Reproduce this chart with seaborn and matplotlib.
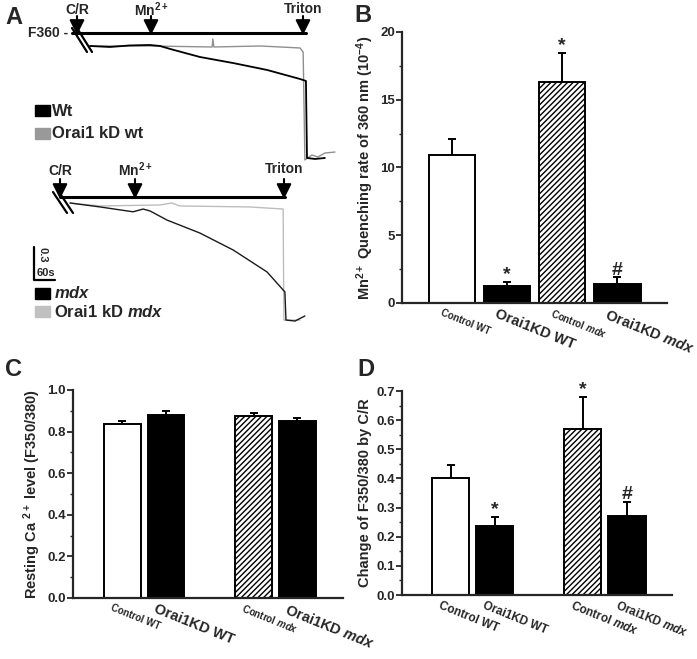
import numpy as np
import pandas as pd
import matplotlib
matplotlib.use("Agg")
import matplotlib.pyplot as plt
import seaborn as sns
from matplotlib.ticker import MultipleLocator, FormatStrFormatter
from matplotlib.transforms import ScaledTranslation

# ---------------- data ----------------
# Panel A traces (time in s, normalised F360)
wt_t = [0, 57, 114, 171, 200, 229, 314, 409, 506, 600, 617, 620, 643, 671]
wt_f = [1.0, 0.991, 1.005, 1.009, 1.0, 0.973, 0.900, 0.845, 0.782, 0.700, 0.682, -0.018, -0.027, -0.018]
kdwt_t = [0, 171, 349, 351, 354, 486, 600, 609, 614, 634, 651, 671, 700]
kdwt_f = [1.0, 1.0, 0.991, 1.064, 0.991, 1.0, 0.982, 0.945, -0.036, 0.009, -0.009, 0.027, 0.036]
mdx_t = [0, 86, 180, 209, 229, 277, 371, 466, 563, 609, 614, 617, 643, 671]
mdx_f = [1.0, 0.964, 0.920, 0.945, 0.927, 0.845, 0.727, 0.573, 0.373, 0.209, 0.191, -0.064, -0.073, -0.027]
kdmdx_t = [0, 86, 257, 291, 314, 514, 609, 611, 657]
kdmdx_f = [1.0, 0.973, 0.982, 1.0, 0.973, 0.964, 0.945, -0.064, -0.064]

groups = ["Control WT", "Orai1KD WT", "Control mdx", "Orai1KD mdx"]
quench_mean = [10.9, 1.25, 16.3, 1.4]
quench_sem = [1.2, 0.3, 2.15, 0.5]
resting_mean = [0.835, 0.882, 0.875, 0.850]
resting_sem = [0.017, 0.015, 0.013, 0.015]
change_mean = [0.40, 0.237, 0.570, 0.270]
change_sem = [0.047, 0.031, 0.110, 0.050]
quench_sig = ["", "*", "*", "#"]
change_sig = ["", "*", "*", "#"]

# ---------------- style ----------------
sns.set_style("ticks")
plt.rcParams["font.family"] = ["Liberation Sans", "DejaVu Sans"]
plt.rcParams["font.weight"] = "bold"
plt.rcParams["mathtext.fontset"] = "custom"
plt.rcParams["mathtext.rm"] = "Liberation Sans:bold"
plt.rcParams["mathtext.it"] = "Liberation Sans:italic:bold"
plt.rcParams["mathtext.bf"] = "Liberation Sans:bold"
plt.rcParams["hatch.linewidth"] = 1.0

W, H = 697, 659
fig = plt.figure(figsize=(W / 100, H / 100), dpi=100)


def rect(x0, y0, x1, y1):
    return [x0 / W, 1 - y1 / H, (x1 - x0) / W, (y1 - y0) / H]


# ---------------- panel A traces ----------------
axA1 = fig.add_axes(rect(20, 0, 345, 175))
sns.lineplot(x=kdwt_t, y=kdwt_f, sort=False, estimator=None, color="#8f8f8f", lw=1.0, ax=axA1)
sns.lineplot(x=wt_t, y=wt_f, sort=False, estimator=None, color="black", lw=1.3, ax=axA1)
axA1.set_xlim(-200, 728.6)
axA1.set_ylim(-0.1727, 1.418)
axA1.axis("off")

axA2 = fig.add_axes(rect(20, 175, 345, 340))
sns.lineplot(x=kdmdx_t, y=kdmdx_f, sort=False, estimator=None, color="#bdbdbd", lw=1.0, ax=axA2)
sns.lineplot(x=mdx_t, y=mdx_f, sort=False, estimator=None, color="#1a1a1a", lw=1.0, ax=axA2)
axA2.set_xlim(-142.9, 785.7)
axA2.set_ylim(-0.2455, 1.2545)
axA2.axis("off")


# ---------------- bar panels ----------------
def bar_panel(box, means, sems, order, ylim, yticks, minor, fmt, ylabel,
              small_fs, big_fs, label_x, sig=None, width=0.84):
    ax = fig.add_axes(rect(*box))
    df = pd.DataFrame({"group": groups, "value": means})
    pal = {"Control WT": "white", "Orai1KD WT": "black",
           "Control mdx": "white", "Orai1KD mdx": "black"}
    sns.barplot(data=df, x="group", y="value", hue="group", palette=pal,
                order=order, hue_order=groups, legend=False, errorbar=None,
                width=width, dodge=False, edgecolor="black", linewidth=1.4,
                saturation=1, ax=ax)
    bars = sorted([p for p in ax.patches if p.get_height() > 0], key=lambda p: p.get_x())
    centers = [p.get_x() + p.get_width() / 2 for p in bars]
    bars[2].set_hatch("//////")
    ax.errorbar(centers, means, yerr=[np.zeros(4), sems], fmt="none",
                ecolor="black", elinewidth=1.4, capsize=3, capthick=1.4, zorder=1)
    for p in bars:
        p.set_zorder(2)
    if sig is not None:
        for c, m, s, g in zip(centers, means, sems, sig):
            if g:
                ax.annotate(g, (c, m + s), xytext=(0, -1), textcoords="offset points",
                            ha="center", va="bottom", fontsize=14,
                            fontweight="bold", annotation_clip=False)
    ax.set_ylim(*ylim)
    ax.set_yticks(yticks)
    ax.yaxis.set_minor_locator(MultipleLocator(minor))
    ax.yaxis.set_major_formatter(FormatStrFormatter(fmt))
    ax.tick_params(axis="y", direction="out", length=4, width=1.3, labelsize=9.5, pad=1)
    ax.tick_params(axis="y", which="minor", direction="out", length=2.5, width=1.0)
    ax.tick_params(axis="x", length=0, pad=3)
    for sp in ["top", "right"]:
        ax.spines[sp].set_visible(False)
    for sp in ["left", "bottom"]:
        ax.spines[sp].set_linewidth(1.6)
    ax.set_ylabel(ylabel, fontsize=10.5, fontweight="bold")
    ax.yaxis.set_label_coords(label_x, 0.5)
    ax.set_xlabel("")
    ax.set_xticks(centers)
    labels = ["Control WT", "Orai1KD WT", "Control $\\mathit{mdx}$", "Orai1KD $\\mathit{mdx}$"]
    ax.set_xticklabels(labels)
    off = ScaledTranslation(-9 / 100, 0, fig.dpi_scale_trans)
    for i, t in enumerate(ax.get_xticklabels()):
        t.set_rotation(-22)
        t.set_ha("left")
        t.set_va("top")
        t.set_rotation_mode("anchor")
        t.set_fontsize(small_fs if i % 2 == 0 else big_fs)
        t.set_fontweight("bold")
        t.set_transform(t.get_transform() + off)
    ax.set_facecolor("none")
    return ax


axB = bar_panel((402, 32, 667, 303), quench_mean, quench_sem, groups,
                (0, 20), [0, 5, 10, 15, 20], 2.5, "%d",
                "Mn$^{2+}$ Quenching rate of 360 nm (10$^{-4}$)", 7, 10.5, -0.10,
                sig=quench_sig)
axB.set_xlim(-0.9, 3.9)

gap_order = ["Control WT", "Orai1KD WT", "", "Control mdx", "Orai1KD mdx"]
axC = bar_panel((73, 390, 343, 598), resting_mean, resting_sem, gap_order,
                (0, 1.0), [0, 0.2, 0.4, 0.6, 0.8, 1.0], 0.1, "%.1f",
                "Resting Ca $^{2+}$ level (F350/380)", 7, 10.5, -0.112)
axC.set_xlim(-1.12, 5.04)

axD = bar_panel((402, 391, 672, 595), change_mean, change_sem, gap_order,
                (0, 0.7), [0, 0.1, 0.2, 0.3, 0.4, 0.5, 0.6, 0.7], 0.05, "%.1f",
                "Change of F350/380 by C/R", 8.5, 8.5, -0.112, sig=change_sig)
axD.set_xlim(-1.1, 5.02)

# ---------------- overlay for panel A annotations ----------------
ov = fig.add_axes([0, 0, 1, 1])
ov.set_xlim(0, W)
ov.set_ylim(H, 0)
ov.axis("off")
ov.set_facecolor("none")


def arrow(x, ytop, ybot, label, ylab):
    ov.annotate("", xy=(x, ybot), xytext=(x, ytop),
                arrowprops=dict(arrowstyle="-|>,head_length=0.9,head_width=0.45",
                                color="black", lw=1.5, shrinkA=0, shrinkB=0))
    ov.text(x, ylab, label, ha="center", va="center", fontsize=10, fontweight="bold")


# top trace decorations
ov.plot([72, 306], [33, 33], color="black", lw=2.2)
arrow(77, 16, 35, "C/R", 10)
arrow(151, 16, 35, "Mn$^{2+}$", 10)
arrow(303, 16, 35, "Triton", 9)
ov.text(68, 33, "F360 -", ha="right", va="center", fontsize=10, fontweight="bold")
ov.plot([72, 87], [28, 52], color="black", lw=1.6)
ov.plot([77, 92], [28, 52], color="black", lw=1.6)

ov.add_patch(plt.Rectangle((35, 105), 15, 11, color="black"))
ov.text(52, 111, "Wt", ha="left", va="center", fontsize=12, fontweight="bold")
ov.add_patch(plt.Rectangle((35, 128), 15, 11, color="#999999"))
ov.text(52, 134, "Orai1 kD wt", ha="left", va="center", fontsize=12, fontweight="bold")

# bottom trace decorations
ov.plot([60, 285], [197, 197], color="black", lw=2.2)
arrow(60, 179, 199, "C/R", 171)
arrow(135, 179, 199, "Mn$^{2+}$", 170)
arrow(284, 179, 199, "Triton", 169)
ov.plot([53, 67], [192, 213], color="black", lw=1.6)
ov.plot([59, 73], [192, 213], color="black", lw=1.6)

# scale bar
ov.plot([34, 34, 55], [247, 280, 280], color="black", lw=1.6)
ov.text(37, 255, "0.3", rotation=-90, ha="left", va="center", fontsize=8, fontweight="bold")
ov.text(37, 278, "60s", ha="left", va="bottom", fontsize=8, fontweight="bold")

ov.add_patch(plt.Rectangle((35, 288), 15, 11, color="black"))
ov.text(54, 293, "$\\mathit{mdx}$", ha="left", va="center", fontsize=12)
ov.add_patch(plt.Rectangle((35, 306), 15, 11, color="#c0c0c0"))
ov.text(54, 312, "Orai1 kD $\\mathit{mdx}$", ha="left", va="center", fontsize=12)

# panel letters
for lab, x, y in [("A", 14, 17), ("B", 363, 16), ("C", 13, 370), ("D", 366, 370)]:
    ov.text(x, y, lab, ha="center", va="center", fontsize=17, fontweight="bold")

fig.savefig("out.png", dpi=100)
